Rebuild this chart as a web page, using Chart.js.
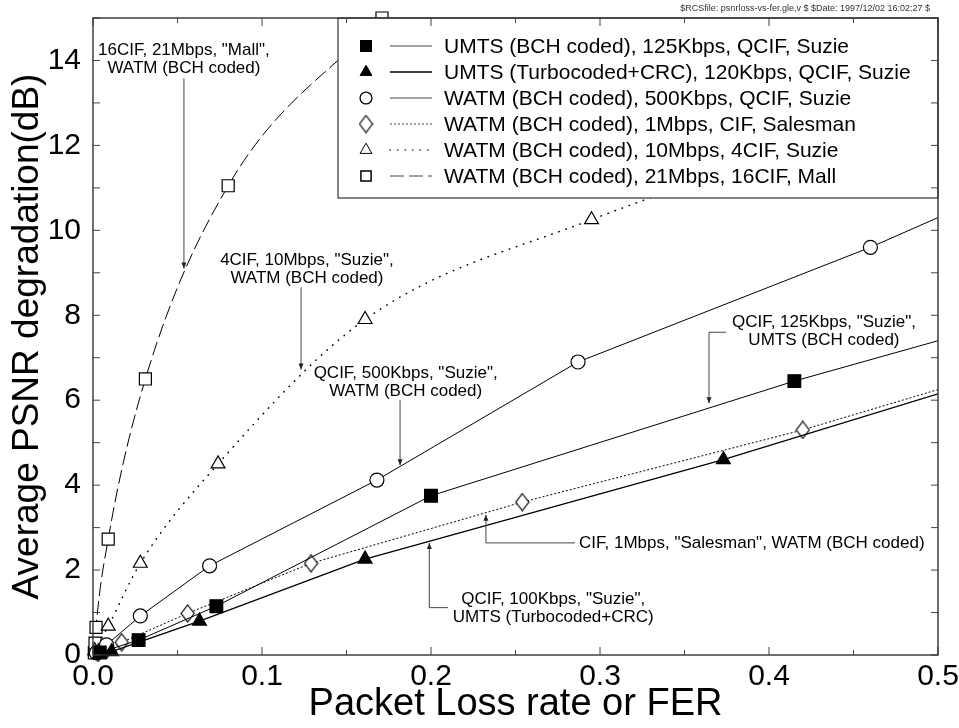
<!DOCTYPE html>
<html>
<head>
<meta charset="utf-8">
<script src="https://cdn.jsdelivr.net/npm/chart.js@4.4.0/dist/chart.umd.min.js"></script>
<style>
  html, body { margin: 0; padding: 0; background: #fff; }
  #wrap { width: 959px; height: 728px; }
</style>
</head>
<body>
<div id="wrap"><canvas id="psnrChart" width="959" height="728"></canvas></div>
<script>
// packet loss rate / FER (x) against PSNR degradation in dB (y)
const umtsBchFer = [0.004, 0.027, 0.073, 0.2, 0.415];
const umtsBchPsnr = [0.06, 0.35, 1.15, 3.75, 6.45];
const umtsTurboFer = [0.004, 0.011, 0.063, 0.161, 0.373];
const umtsTurboPsnr = [0.03, 0.08, 0.8, 2.26, 4.6];
const watm500kFer = [0.002, 0.008, 0.028, 0.069, 0.168, 0.287, 0.46];
const watm500kPsnr = [0.05, 0.24, 0.92, 2.1, 4.12, 6.9, 9.6];
const watm1mFer = [0.003, 0.008, 0.017, 0.056, 0.129, 0.254, 0.42];
const watm1mPsnr = [0.05, 0.12, 0.3, 0.98, 2.16, 3.6, 5.3];
const watm10mFer = [0.001, 0.009, 0.028, 0.074, 0.161, 0.295];
const watm10mPsnr = [0.1, 0.68, 2.16, 4.5, 7.9, 10.25];
const watm21mFer = [0.0008, 0.0012, 0.0018, 0.009, 0.031, 0.08, 0.171];
const watm21mPsnr = [0.05, 0.28, 0.65, 2.73, 6.5, 11.05, 15.0];

// where each line leaves the frame (no marker drawn there)
const umtsBchExit = [0.5, 7.4];
const umtsTurboExit = [0.5, 6.15];
const watm500kExit = [0.5, 10.3];
const watm1mExit = [0.5, 6.25];
const watm10mExit = [0.5, 13.0];

const seriesNames = [
    "UMTS (BCH coded), 125Kbps, QCIF, Suzie",
    "UMTS (Turbocoded+CRC), 120Kbps, QCIF, Suzie",
    "WATM (BCH coded), 500Kbps, QCIF, Suzie",
    "WATM (BCH coded), 1Mbps, CIF, Salesman",
    "WATM (BCH coded), 10Mbps, 4CIF, Suzie",
    "WATM (BCH coded), 21Mbps, 16CIF, Mall"
];

const xTickValues = [0, 0.1, 0.2, 0.3, 0.4, 0.5];
const yTickValues = [0, 2, 4, 6, 8, 10, 12, 14];

const headerText = "$RCSfile: psnrloss-vs-fer.gle,v $ $Date: 1997/12/02 16:02:27 $";

// callouts, anchored in data coordinates
const notes = [
    { text: ['16CIF, 21Mbps, "Mall",', "WATM (BCH coded)"], x: 0.0538, y: 14.25, align: "center",
      leader: [[0.0538, 13.58], [0.0538, 9.1]] },
    { text: ['4CIF, 10Mbps, "Suzie",', "WATM (BCH coded)"], x: 0.1266, y: 9.3, align: "center",
      leader: [[0.1231, 8.66], [0.1231, 6.72]] },
    { text: ['QCIF, 500Kbps, "Suzie",', "WATM (BCH coded)"], x: 0.185, y: 6.64, align: "center",
      leader: [[0.1817, 6.0], [0.1817, 4.47]] },
    { text: ['QCIF, 125Kbps, "Suzie",', "UMTS (BCH coded)"], x: 0.4325, y: 7.84, align: "center",
      leader: [[0.3746, 7.6], [0.3645, 7.6], [0.3645, 5.93]] },
    { text: ['CIF, 1Mbps, "Salesman", WATM (BCH coded)'], x: 0.2876, y: 2.64, align: "left",
      leader: [[0.2852, 2.64], [0.2325, 2.64], [0.2325, 3.3]] },
    { text: ['QCIF, 100Kbps, "Suzie",', "UMTS (Turbocoded+CRC)"], x: 0.2723, y: 1.31, align: "center",
      leader: [[0.21, 1.115], [0.199, 1.115], [0.199, 2.64]] }
];

Chart.defaults.font.family = "'Liberation Sans', Arial, sans-serif";
Chart.defaults.color = "#000";

function makeDiamond(w, h) {
    const c = document.createElement("canvas");
    c.width = w + 2;
    c.height = h + 2;
    const g = c.getContext("2d");
    g.fillStyle = "#fff";
    g.strokeStyle = "#000";
    g.lineWidth = 1.2;
    g.beginPath();
    g.moveTo(c.width / 2, 1);
    g.lineTo(c.width - 1, c.height / 2);
    g.lineTo(c.width / 2, c.height - 1);
    g.lineTo(1, c.height / 2);
    g.closePath();
    g.fill();
    g.stroke();
    return c;
}

function series(label, xs, ys, exit, style) {
    const pts = xs.map((v, i) => ({ x: v, y: ys[i] }));
    if (exit) pts.push({ x: exit[0], y: exit[1], exit: true });
    const r = style.pointRadius;
    return Object.assign({
        label: label,
        data: pts,
        borderColor: "#000",
        borderWidth: 1,
        pointBorderColor: "#000",
        pointBorderWidth: 1.2,
        tension: 0,
        clip: { left: 12, top: 12, right: 0, bottom: 12 }
    }, style, {
        pointRadius: c => (c.raw && c.raw.exit ? 0 : r),
        legendRadius: r
    });
}

const legendBox = {
    id: "legendBox",
    afterDatasetsDraw(chart) {
        const { ctx, chartArea: a } = chart;
        const left = 338, bottom = 198;
        ctx.save();
        ctx.fillStyle = "#fff";
        ctx.fillRect(left, a.top, a.right - left, bottom - a.top);
        ctx.strokeStyle = "#333";
        ctx.lineWidth = 1.2;
        ctx.strokeRect(left, a.top, a.right - left, bottom - a.top);
        ctx.font = "21px 'Liberation Sans', Arial, sans-serif";
        ctx.textBaseline = "middle";
        ctx.textAlign = "left";
        chart.data.datasets.forEach((ds, i) => {
            const yy = 46 + i * 26;
            ctx.fillStyle = ds.pointBackgroundColor;
            ctx.strokeStyle = "#000";
            Chart.helpers.drawPoint(ctx, {
                pointStyle: ds.pointStyle, radius: ds.legendRadius * 0.85,
                borderWidth: 1.2, rotation: 0
            }, 366, yy);
            ctx.beginPath();
            ctx.setLineDash(ds.borderDash || []);
            ctx.lineCap = ds.borderCapStyle || "butt";
            ctx.lineWidth = ds.borderWidth;
            ctx.strokeStyle = i === 1 ? "#000" : "#444";
            ctx.moveTo(390, yy);
            ctx.lineTo(432, yy);
            ctx.stroke();
            ctx.setLineDash([]);
            ctx.fillStyle = "#000";
            ctx.fillText(ds.label, 444, yy + 1);
        });
        ctx.restore();
    }
};

const callouts = {
    id: "callouts",
    afterDatasetsDraw(chart) {
        const { ctx, scales: { x, y } } = chart;
        ctx.save();
        ctx.font = "17px 'Liberation Sans', Arial, sans-serif";
        ctx.textBaseline = "middle";
        ctx.fillStyle = "#000";
        notes.forEach(n => {
            ctx.textAlign = n.align;
            const px = x.getPixelForValue(n.x), py = y.getPixelForValue(n.y);
            n.text.forEach((t, k) => ctx.fillText(t, px, py + k * 18));
            const pts = n.leader.map(p => [x.getPixelForValue(p[0]), y.getPixelForValue(p[1])]);
            ctx.strokeStyle = "#444";
            ctx.lineWidth = 1;
            ctx.beginPath();
            pts.forEach((p, k) => (k ? ctx.lineTo(p[0], p[1]) : ctx.moveTo(p[0], p[1])));
            ctx.stroke();
            const [tx, ty] = pts[pts.length - 1];
            const [fx, fy] = pts[pts.length - 2];
            const ang = Math.atan2(ty - fy, tx - fx);
            ctx.fillStyle = "#222";
            ctx.beginPath();
            ctx.moveTo(tx, ty);
            ctx.lineTo(tx - 6 * Math.cos(ang) + 2.5 * Math.sin(ang), ty - 6 * Math.sin(ang) - 2.5 * Math.cos(ang));
            ctx.lineTo(tx - 6 * Math.cos(ang) - 2.5 * Math.sin(ang), ty - 6 * Math.sin(ang) + 2.5 * Math.cos(ang));
            ctx.closePath();
            ctx.fill();
            ctx.fillStyle = "#000";
        });
        ctx.restore();
    }
};

const frame = {
    id: "frame",
    afterDraw(chart) {
        const { ctx, chartArea: a, scales: { x, y } } = chart;
        ctx.save();
        ctx.strokeStyle = "#444";
        ctx.lineWidth = 1;
        ctx.beginPath();
        for (let v = 0; v <= 15; v++) {
            const py = y.getPixelForValue(v);
            ctx.moveTo(a.left, py); ctx.lineTo(a.left + 7, py);
            ctx.moveTo(a.right, py); ctx.lineTo(a.right - 7, py);
        }
        for (let k = 0; k <= 10; k++) {
            const px = x.getPixelForValue(k * 0.05);
            const len = k % 2 ? 5 : 8;
            ctx.moveTo(px, a.bottom); ctx.lineTo(px, a.bottom - len);
            ctx.moveTo(px, a.top); ctx.lineTo(px, a.top + len);
        }
        ctx.stroke();
        ctx.strokeStyle = "#333";
        ctx.lineWidth = 1.4;
        ctx.strokeRect(a.left, a.top, a.right - a.left, a.bottom - a.top);
        ctx.font = "9px 'Liberation Sans', Arial, sans-serif";
        ctx.fillStyle = "#333";
        ctx.textAlign = "right";
        ctx.textBaseline = "middle";
        ctx.fillText(headerText, 930, 9);
        ctx.restore();
    }
};

const ctx = document.getElementById("psnrChart").getContext("2d");
new Chart(ctx, {
    type: "line",
    data: {
        datasets: [
            series(seriesNames[0], umtsBchFer, umtsBchPsnr, umtsBchExit,
                { pointStyle: "rect", pointRadius: 9, pointBackgroundColor: "#000" }),
            series(seriesNames[1], umtsTurboFer, umtsTurboPsnr, umtsTurboExit,
                { pointStyle: "triangle", pointRadius: 8, pointBackgroundColor: "#000", borderWidth: 1.3 }),
            series(seriesNames[2], watm500kFer, watm500kPsnr, watm500kExit,
                { pointStyle: "circle", pointRadius: 7, pointBackgroundColor: "#fff" }),
            series(seriesNames[3], watm1mFer, watm1mPsnr, watm1mExit,
                { pointStyle: makeDiamond(13, 17), pointRadius: 8, pointBackgroundColor: "#fff", borderDash: [2, 2] }),
            series(seriesNames[4], watm10mFer, watm10mPsnr, watm10mExit,
                { pointStyle: "triangle", pointRadius: 8, pointBackgroundColor: "#fff", borderWidth: 1.5,
                  borderDash: [0.5, 7], borderCapStyle: "round", cubicInterpolationMode: "monotone" }),
            series(seriesNames[5], watm21mFer, watm21mPsnr, null,
                { pointStyle: "rect", pointRadius: 8.5, pointBackgroundColor: "#fff",
                  borderDash: [14, 5], cubicInterpolationMode: "monotone" })
        ]
    },
    options: {
        responsive: false,
        animation: false,
        events: [],
        layout: { padding: { top: 18, right: 21, left: 0, bottom: 0 } },
        plugins: { legend: { display: false }, tooltip: { enabled: false } },
        scales: {
            x: {
                type: "linear",
                min: 0,
                max: 0.5,
                grid: { display: false, drawTicks: false },
                border: { display: false },
                afterBuildTicks: s => { s.ticks = xTickValues.map(v => ({ value: v })); },
                afterFit: s => { s.height = 73; s.paddingLeft = 0; s.paddingRight = 0; },
                ticks: { font: { size: 30 }, padding: 4, maxRotation: 0, callback: v => v.toFixed(1) },
                title: { display: true, text: "Packet Loss rate or FER", font: { size: 38 }, padding: { top: 0, bottom: 1 } }
            },
            y: {
                min: 0,
                max: 15,
                grid: { display: false, drawTicks: false },
                border: { display: false },
                afterBuildTicks: s => { s.ticks = yTickValues.map(v => ({ value: v })); },
                afterFit: s => { s.width = 93; s.paddingTop = 0; s.paddingBottom = 0; },
                ticks: { font: { size: 30 }, padding: 12, callback: v => String(v) },
                title: { display: true, text: "Average PSNR degradation(dB)", font: { size: 37 }, padding: { top: 6, bottom: 0 } }
            }
        }
    },
    plugins: [legendBox, callouts, frame]
});
</script>
</body>
</html>
